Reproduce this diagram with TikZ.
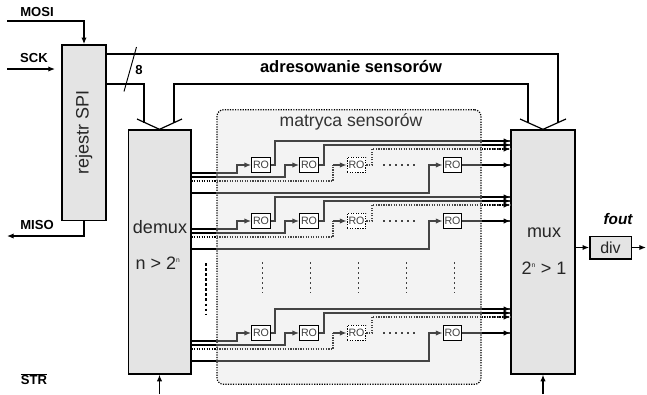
\documentclass[tikz,border=0pt]{standalone}
\usepackage{fontspec}
\setmainfont{Liberation Sans}
\usetikzlibrary{arrows.meta}
\definecolor{boxgray}{HTML}{E4E4E4}
\definecolor{matrixgray}{HTML}{F3F3F3}
\definecolor{wiregray}{HTML}{444444}
\begin{document}
\begin{tikzpicture}[x=0.75pt,y=-0.75pt]
        % Define styles for shapes
        \tikzset{
            block/.style={draw, line width=1pt, fill=boxgray, inner sep=0pt, text=black!85},
            robox/.style={draw, line width=0.9pt, fill=white, minimum width=14pt, minimum height=11.5pt, inner sep=0pt, font=\fontsize{8}{9}\selectfont, text=black!75},
            rodash/.style={robox, densely dotted},
            signal/.style={font=\fontsize{9.8}{11}\selectfont\bfseries},
            blocktext/.style={font=\fontsize{13.5}{15}\selectfont, text=black!85},
            wire/.style={line width=0.9pt},
            wirein/.style={wire, wiregray, -{Latex[length=5pt,width=4pt]}},
            wiredot/.style={wire, wiregray, densely dotted},
            tip/.style={-{Latex[length=5pt,width=4pt]}},
            gapdash/.style={line width=0.6pt, black!75, dash pattern=on 1.5pt off 2.25pt}
        }
        \useasboundingbox (0,0) rectangle (647,394);
        % Draw matrix background
        \node[draw, densely dotted, line width=0.9pt, fill=matrixgray, rounded corners=5pt, minimum width=198pt, minimum height=206pt, inner sep=0pt] (field) at (349,247) {};
        \node[font=\fontsize{13.2}{15}\selectfont, text=black!80] (fieldlabel) at (351,122) {matryca sensorów};
        % Draw main blocks
        \node[block, minimum width=33pt, minimum height=131.5pt] (spi) at (84,132.5) {};
        \node[blocktext, rotate=90] (spilabel) at (84,132) {rejestr SPI};
        \node[block, minimum width=47pt, minimum height=183pt] (demux) at (159.5,252) {};
        \node[blocktext] (demuxlabel) at (160,227) {demux};
        \node[blocktext] (demuxrule) at (158,263) {n > 2\textsuperscript{\fontsize{5}{5}\selectfont n}};
        \node[block, minimum width=48pt, minimum height=183pt] (mux) at (543,252) {};
        \node[blocktext] (muxlabel) at (544,233) {mux};
        \node[blocktext] (muxrule) at (544,268) {2\textsuperscript{\fontsize{5}{5}\selectfont n} > 1};
        \node[block, minimum width=31pt, minimum height=17pt, font=\fontsize{12}{14}\selectfont] (div) at (610.5,247.5) {div};
        \node[font=\fontsize{11.5}{14}\selectfont\bfseries\itshape] (fout) at (618,219) {fout};
        % Sensor rows
        \foreach \r/\y in {a/165, b/221, c/333} {
            \node[robox] (ro1\r) at (261,\y) {RO};
            \node[robox] (ro2\r) at (309,\y) {RO};
            \node[rodash] (ro3\r) at (356.5,\y) {RO};
            \node[robox] (ro4\r) at (452.5,\y) {RO};
            \coordinate (dots1\r) at (383,\y);
            \coordinate (dots2\r) at (415,\y);
            \draw[wiregray, line width=0.9pt, dash pattern=on 1.5pt off 3pt] (dots1\r) -- (dots2\r);
            % Inputs from demux
            \draw[wirein] (demux.east |- 0,\y+8) -| (237,\y) -- (ro1\r);
            \draw[wirein] (demux.east |- 0,\y+12) -| (285,\y) -- (ro2\r);
            \draw[wiredot] (demux.east |- 0,\y+16) -| (333,\y);
            \draw[wirein] (333,\y) -- (ro3\r);
            \draw[wirein] (demux.east |- 0,\y+28) -| (429,\y) -- (ro4\r);
            % Outputs to mux
            \draw[wire, wiregray] (ro1\r) -| (275,\y-24) -- (mux.west |- 0,\y-24);
            \draw[wire, wiregray] (ro2\r) -| (324,\y-20) -- (mux.west |- 0,\y-20);
            \draw[wiredot] (ro3\r) -| (372,\y-16) -- (mux.west |- 0,\y-16);
            \draw[wire, wiregray] (ro4\r) -- (mux.west |- ro4\r);
            % Black parts outside the matrix
            \draw[wire] (demux.east |- 0,\y+8) -- (field.west |- 0,\y+8);
            \draw[wire] (demux.east |- 0,\y+12) -- (field.west |- 0,\y+12);
            \draw[wire, densely dotted] (demux.east |- 0,\y+16) -- (field.west |- 0,\y+16);
            \draw[wire] (demux.east |- 0,\y+28) -- (field.west |- 0,\y+28);
            \draw[wire, tip] (field.east |- 0,\y-24) -- (mux.west |- 0,\y-24);
            \draw[wire, tip] (field.east |- 0,\y-20) -- (mux.west |- 0,\y-20);
            \draw[wire, densely dotted, tip] (field.east |- 0,\y-16) -- (mux.west |- 0,\y-16);
            \draw[wire, tip] (field.east |- 0,\y) -- (mux.west |- 0,\y);
        }
        % Dashes between the rows
        \draw[line width=1.3pt, dash pattern=on 2pt off 1.8pt] (206,263) -- (206,315);
        \foreach \x in {262,310,358,406,454} {
            \draw[gapdash] (\x,262) -- (\x,293);
        }
        % Signals on the left
        \coordinate (mosistart) at (7,21);
        \coordinate (sckstart) at (7,69);
        \coordinate (sckend) at (55,69);
        \coordinate (misoend) at (7,236);
        \draw[wire, tip] (mosistart) -| (spi.north);
        \draw[wire, tip] (sckstart) -- (sckend);
        \draw[wire, tip] (spi.south) |- (misoend);
        \node[signal] (mosi) at (37,12) {MOSI};
        \node[signal] (sck) at (34,58) {SCK};
        \node[signal] (miso) at (37,225) {MISO};
        \node[signal] (str) at (34,379) {$\overline{\mbox{STR}}$};
        % Address bus
        \coordinate (demuxtipl) at (137,119);
        \coordinate (demuxtipr) at (182,119);
        \coordinate (muxtipl) at (520,119);
        \coordinate (muxtipr) at (566,119);
        \draw[wire] (demuxtipl) -- (demux.north) -- (demuxtipr);
        \draw[wire] (muxtipl) -- (mux.north) -- (muxtipr);
        \coordinate (bushigh) at (558,54);
        \draw[wire] (spi.east |- 0,54) -- (bushigh) -- (558,122.5);
        \draw[wire] (spi.east |- 0,84) -| (144,122.5);
        \draw[wire] (174,122.5) |- (528,84) -- (528,122.5);
        \coordinate (slashtop) at (136.5,47);
        \coordinate (slashend) at (124,91.5);
        \draw[line width=0.7pt] (slashtop) -- (slashend);
        \node[signal] (buswidth) at (139,70) {8};
        \node[font=\fontsize{12.4}{14}\selectfont\bfseries] (buslabel) at (351,67) {adresowanie sensorów};
        % Clock arrows and output
        \coordinate (demuxin) at (159.5,394);
        \coordinate (muxin) at (543,394);
        \coordinate (outend) at (646,247.5);
        \draw[wire, tip] (demuxin) -- (demux.south);
        \draw[wire, tip] (muxin) -- (mux.south);
        \draw[wire, tip] (mux.east |- div) -- (div);
        \draw[wire, tip] (div) -- (outend);
    \end{tikzpicture}
\end{document}
